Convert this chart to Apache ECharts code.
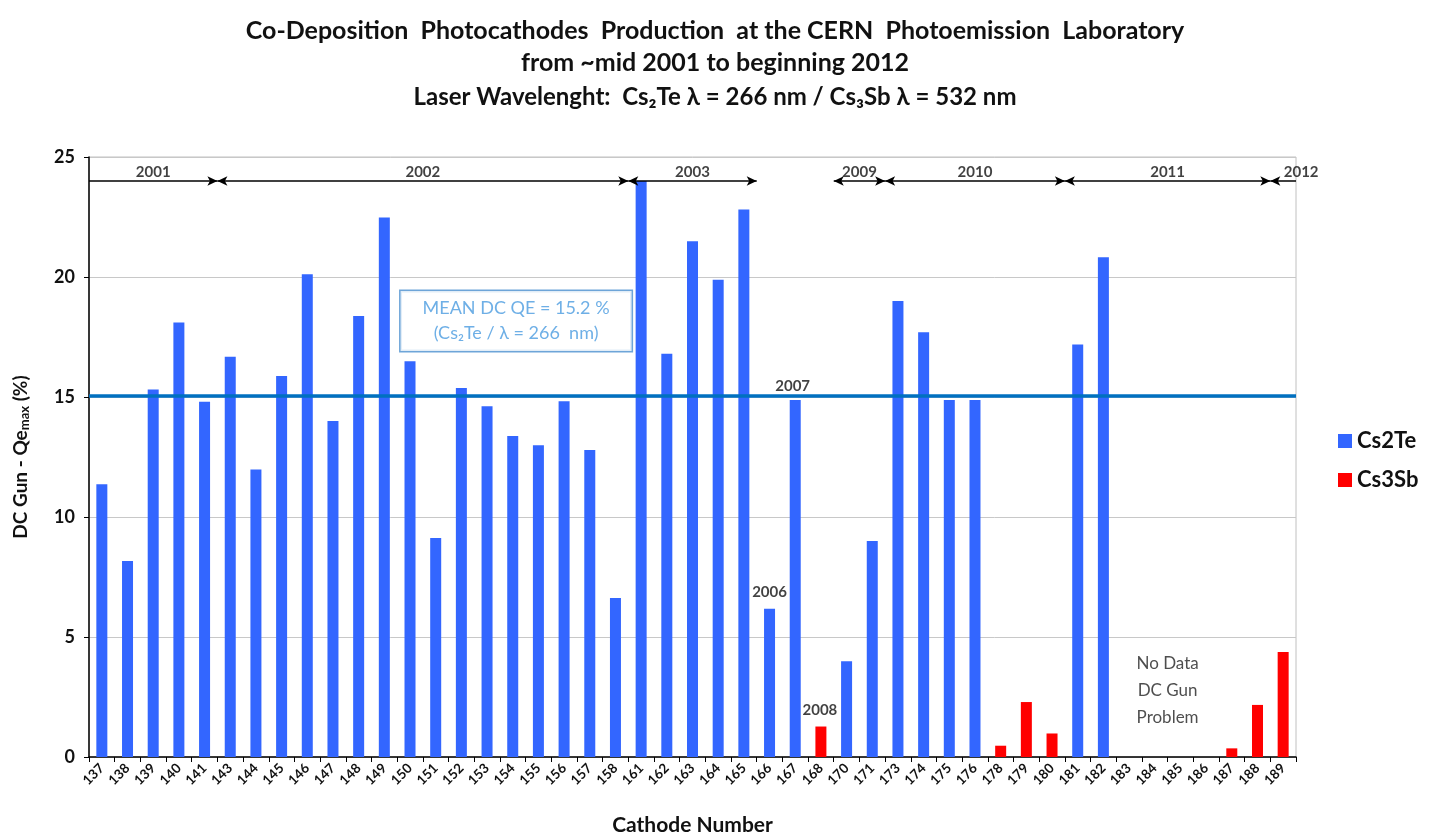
<!DOCTYPE html>
<html>
<head>
<meta charset="utf-8">
<script src="https://cdn.jsdelivr.net/npm/echarts@6/dist/echarts.min.js"></script>
<style>html,body{margin:0;padding:0;background:#fff;}#c{width:1430px;height:839px;}</style>
</head>
<body>
<div id="c"></div>
<script>
const categories = ['137','138','139','140','141','143','144','145','146','147','148','149','150','151','152','153','154','155','156','157','158','161','162','163','164','165','166','167','168','170','171','173','174','175','176','178','179','180','181','182','183','184','185','186','187','188','189'];
const cs2te = [11.36,8.17,15.31,18.1,14.8,16.68,11.98,15.87,20.11,14.0,18.37,22.48,16.49,9.12,15.38,14.61,13.37,12.99,14.82,12.79,6.62,24.0,16.8,21.49,19.89,22.81,6.18,14.87,null,3.99,9.0,19.0,17.7,14.87,14.87,null,null,null,17.19,20.82,null,null,null,null,null,null,null];
const cs3sb = [null,null,null,null,null,null,null,null,null,null,null,null,null,null,null,null,null,null,null,null,null,null,null,null,null,null,null,null,1.27,null,null,null,null,null,null,0.47,2.29,0.98,null,null,null,null,null,null,0.36,2.17,4.38];
const meanQE = 15.06;
const yTicks = [0,5,10,15,20,25];
// year spans in category-boundary units: [label, start, end, leftHead, rightHead]
const yearSpans = [['2001',0,5,false,true],['2002',5,21,true,true],['2003',21,26,true,true],['2009',29,31,true,true],['2010',31,38,true,true],['2011',38,46,true,true],['2012',46,47,true,false]];
const spanLevel = 24;
// notes: [text, x (category-boundary units), y value]
const notes = [['2006',26.5,6.85],['2007',27.4,15.45],['2008',28.46,1.96]];
const noDataNote = ['No Data\nDC Gun\nProblem',42.0,2.79];
const meanBox = [16.63,18.17];

const chart = echarts.init(document.getElementById('c'));
const FONT = 'Lato, "Open Sans", sans-serif';

const arrowLines = yearSpans.map(s => [
  {coord:[s[1],spanLevel], symbol: s[3]?'arrow':'none'},
  {coord:[s[2],spanLevel], symbol: s[4]?'arrow':'none'}
]);
const yearLabels = yearSpans.map(s => ({
  value:[(s[1]+s[2])/2, spanLevel],
  label:{show:true, formatter:s[0], position:'top', distance:1, offset:[s[0]==='2012'?18:0,0],
         fontFamily:FONT, fontWeight:'bold', fontSize:15, color:'#111'}
}));
const noteLabels = notes.map(n => ({
  value:[n[1],n[2]],
  label:{show:true, formatter:n[0], position:'inside', fontFamily:FONT, fontWeight:'bold', fontSize:15, color:'#111'}
}));
noteLabels.push({value:[noDataNote[1],noDataNote[2]],
  label:{show:true, formatter:noDataNote[0], position:'inside', fontFamily:FONT, fontSize:17, lineHeight:27, color:'#222'}});
noteLabels.push({value:meanBox,
  label:{show:true, position:'inside', formatter:'MEAN DC QE = 15.2 %\n(Cs₂Te / λ = 266  nm)',
    fontFamily:FONT, fontSize:18, lineHeight:25, color:'#4a9be0', align:'center',
    borderColor:'#4a8fce', borderWidth:1.5, padding:[5,22,5,22], backgroundColor:'#fff'}});

const option = {
  backgroundColor:'#fff',
  animation:false,
  title:[
    {text:'Co-Deposition  Photocathodes  Production  at the CERN  Photoemission  Laboratory', left:'center', top:13,
     textStyle:{fontFamily:FONT, fontWeight:'bold', fontSize:25, color:'#111'}},
    {text:'from ~mid 2001 to beginning 2012', left:'center', top:45,
     textStyle:{fontFamily:FONT, fontWeight:'bold', fontSize:25, color:'#111'}},
    {text:'Laser Wavelenght:  Cs₂Te λ = 266 nm / Cs₃Sb λ = 532 nm', left:'center', top:80,
     textStyle:{fontFamily:FONT, fontWeight:'bold', fontSize:24, color:'#111'}}
  ],
  legend:{
    data:['Cs2Te','Cs3Sb'], orient:'vertical', left:1333, top:425, icon:'rect',
    itemWidth:14, itemHeight:14, itemGap:17,
    textStyle:{fontFamily:FONT, fontWeight:'bold', fontSize:22, color:'#111'}
  },
  grid:{left:89, right:134, top:157, bottom:82, show:true, borderColor:'#c0c0c0', borderWidth:1,
        containLabel:false, outerBoundsMode:'none'},
  xAxis:[
    {type:'category', data:categories, boundaryGap:true,
     name:'Cathode Number', nameLocation:'middle', nameGap:58,
     nameTextStyle:{fontFamily:FONT, fontWeight:'bold', fontSize:21, color:'#111'},
     axisLine:{lineStyle:{color:'#000', width:1.5}},
     axisTick:{show:true, interval:0, length:5, lineStyle:{color:'#000'}},
     axisLabel:{interval:0, rotate:45, fontFamily:FONT, fontWeight:'bold', fontSize:13.5, color:'#111', margin:9}},
    {type:'value', min:0, max:47, show:false}
  ],
  yAxis:{type:'value', min:0, max:25, interval:5,
    name:'DC Gun - Qe{sub|max} (%)', nameLocation:'middle', nameGap:58,
    nameTextStyle:{fontFamily:FONT, fontWeight:'bold', fontSize:19, color:'#111',
      rich:{sub:{fontFamily:FONT, fontWeight:'bold', fontSize:13, color:'#111', verticalAlign:'bottom', padding:[8,0,0,0]}}},
    axisLine:{show:true, lineStyle:{color:'#000', width:1.5}},
    axisTick:{show:true, length:5, lineStyle:{color:'#000'}},
    axisLabel:{fontFamily:FONT, fontWeight:'bold', fontSize:18, color:'#111', margin:14},
    splitLine:{lineStyle:{color:'#c8c8c8', width:1}}
  },
  series:[
    {name:'Cs2Te', type:'bar', stack:'a', data:cs2te, barWidth:11, itemStyle:{color:'#3366ff'},
     markLine:{silent:true, symbol:'none', label:{show:false},
       lineStyle:{color:'#0070c0', width:3.5, type:'solid'}, data:[{yAxis:meanQE}]}},
    {name:'Cs3Sb', type:'bar', stack:'a', data:cs3sb, barWidth:11, itemStyle:{color:'#ff0000'}},
    {name:'annot', type:'scatter', xAxisIndex:1, symbolSize:0, silent:true, z:5,
     data: yearLabels.concat(noteLabels),
     markLine:{silent:true, symbolSize:[7,10], label:{show:false},
       lineStyle:{color:'#000', width:1.5, type:'solid'}, data:arrowLines}}
  ]
};
chart.setOption(option);
</script>
</body>
</html>
